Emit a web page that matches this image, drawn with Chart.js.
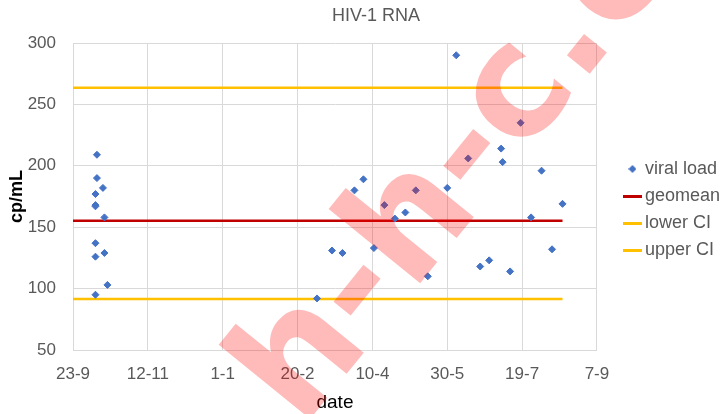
<!DOCTYPE html>
<html>
<head>
<meta charset="utf-8">
<script src="https://cdn.jsdelivr.net/npm/chart.js@4.4.1/dist/chart.umd.min.js"></script>
<style>
  html, body { margin: 0; padding: 0; background: #fff; }
  #wrap { width: 721px; height: 414px; }
</style>
</head>
<body>
<div id="wrap"><canvas id="vlChart" width="721" height="414"></canvas></div>
<script>
// sample dates and viral loads
const sampleDates = [
  '2019-10-08', '2019-10-08', '2019-10-08', '2019-10-08', '2019-10-08', '2019-10-08',
  '2019-10-09', '2019-10-09', '2019-10-13', '2019-10-14', '2019-10-14', '2019-10-16',
  '2020-03-04', '2020-03-14', '2020-03-21', '2020-03-29', '2020-04-04', '2020-04-11',
  '2020-04-18', '2020-04-25', '2020-05-02', '2020-05-09', '2020-05-17', '2020-05-30',
  '2020-06-05', '2020-06-13', '2020-06-21', '2020-06-27', '2020-07-05', '2020-07-06',
  '2020-07-11', '2020-07-18', '2020-07-25', '2020-08-01', '2020-08-08', '2020-08-15'
];
const viralLoad = [
  177, 168, 167, 137, 126, 95,
  209, 190, 182, 158, 129, 103,
  92, 131, 129, 180, 189, 133,
  168, 157, 162, 180, 110, 182,
  290, 206, 118, 123, 214, 203,
  114, 235, 158, 196, 132, 169
];

// horizontal reference lines
const refLineDates = ['2019-09-23', '2020-08-15'];
const geomean = 155.3;
const lowerCI = 91.5;
const upperCI = 263.6;

const seriesNames = ['viral load', 'geomean', 'lower CI', 'upper CI'];
const seriesColors = ['#4472C4', '#C00000', '#FFC000', '#FFC000'];

const yTicks = [50, 100, 150, 200, 250, 300];

// x axis runs in days from 23-9-2019
const startDay = Date.UTC(2019, 8, 23);
function dayOf(s) {
  const [y, m, d] = s.split('-').map(Number);
  return (Date.UTC(y, m - 1, d) - startDay) / 864e5;
}
function dayLabel(v) {
  const d = new Date(startDay + v * 864e5);
  return d.getUTCDate() + '-' + (d.getUTCMonth() + 1);
}

function refLine(val) {
  return refLineDates.map(d => ({ x: dayOf(d), y: val }));
}

// legend icons
function lineIcon(color) {
  const c = document.createElement('canvas');
  c.width = 19; c.height = 3;
  const g = c.getContext('2d');
  g.fillStyle = color;
  g.fillRect(0, 0, 19, 3);
  return c;
}
function diamondIcon(color) {
  const c = document.createElement('canvas');
  c.width = 8; c.height = 8;
  const g = c.getContext('2d');
  g.fillStyle = color;
  g.beginPath();
  g.moveTo(4, 0); g.lineTo(8, 4); g.lineTo(4, 8); g.lineTo(0, 4);
  g.closePath();
  g.fill();
  return c;
}
const legendIcons = [diamondIcon(seriesColors[0]), lineIcon(seriesColors[1]), lineIcon(seriesColors[2]), lineIcon(seriesColors[3])];

// title + watermark
const overlay = {
  id: 'overlay',
  afterDraw(chart) {
    const { ctx } = chart;
    ctx.save();
    ctx.font = '18px "Liberation Sans"';
    ctx.fillStyle = '#595959';
    ctx.textAlign = 'center';
    ctx.textBaseline = 'middle';
    ctx.fillText('HIV-1 RNA', 376, 16);

    ctx.translate(302, 429);
    ctx.rotate(-51 * Math.PI / 180);
    ctx.font = 'bold 155px "DejaVu Sans"';
    ctx.fillStyle = 'rgba(255,0,0,0.27)';
    ctx.textAlign = 'left';
    ctx.textBaseline = 'alphabetic';
    ctx.fillText('h-h-c.com', 0, 0);
    ctx.restore();
  }
};

Chart.defaults.font.family = '"Liberation Sans", Arial, sans-serif';

const ctx = document.getElementById('vlChart');

new Chart(ctx, {
  type: 'scatter',
  data: {
    datasets: [
      {
        label: seriesNames[0],
        data: sampleDates.map((d, i) => ({ x: dayOf(d), y: viralLoad[i] })),
        pointStyle: 'rectRot',
        pointRadius: 3.5,
        pointHoverRadius: 3.5,
        backgroundColor: seriesColors[0],
        borderColor: seriesColors[0],
        borderWidth: 1
      },
      {
        label: seriesNames[1],
        data: refLine(geomean),
        showLine: true,
        borderColor: seriesColors[1],
        backgroundColor: seriesColors[1],
        borderWidth: 2.5,
        pointRadius: 0
      },
      {
        label: seriesNames[2],
        data: refLine(lowerCI),
        showLine: true,
        borderColor: seriesColors[2],
        backgroundColor: seriesColors[2],
        borderWidth: 2.5,
        pointRadius: 0
      },
      {
        label: seriesNames[3],
        data: refLine(upperCI),
        showLine: true,
        borderColor: seriesColors[3],
        backgroundColor: seriesColors[3],
        borderWidth: 2.5,
        pointRadius: 0
      }
    ]
  },
  options: {
    responsive: false,
    animation: false,
    layout: { padding: { top: 43, right: -9, bottom: 0, left: 0 } },
    plugins: {
      tooltip: { enabled: false },
      title: { display: false },
      legend: {
        position: 'right',
        fullSize: false,
        title: { display: true, text: ' ', font: { size: 18, lineHeight: 1 }, padding: { top: 2, bottom: 6 } },
        labels: {
          usePointStyle: true,
          boxWidth: 7,
          boxHeight: 16,
          padding: 9,
          color: '#595959',
          font: { size: 18 },
          generateLabels: (chart) => chart.data.datasets.map((ds, i) => ({
            text: ds.label,
            pointStyle: legendIcons[i],
            fillStyle: seriesColors[i],
            strokeStyle: seriesColors[i],
            lineWidth: 0,
            hidden: false,
            datasetIndex: i,
            fontColor: '#595959'
          }))
        }
      }
    },
    scales: {
      x: {
        type: 'linear',
        min: 0,
        max: 350,
        ticks: {
          stepSize: 50,
          padding: 14,
          color: '#595959',
          font: { size: 17 },
          maxRotation: 0,
          autoSkip: false,
          callback: (v) => dayLabel(v)
        },
        grid: { color: '#D9D9D9', drawTicks: false },
        border: { color: '#D9D9D9' },
        title: { display: true, text: 'date', color: '#000', font: { size: 19 }, padding: { top: 7.8, bottom: 0 } },
        afterFit: (s) => { s.height = 64; }
      },
      y: {
        min: yTicks[0],
        max: yTicks[yTicks.length - 1],
        afterBuildTicks: (s) => { s.ticks = yTicks.map(v => ({ value: v })); },
        ticks: { padding: 17, color: '#595959', font: { size: 17 } },
        grid: { color: '#D9D9D9', drawTicks: false },
        border: { color: '#D9D9D9' },
        title: { display: true, text: 'cp/mL', color: '#000', font: { size: 18, weight: 'bold' }, padding: { top: 6, bottom: 0 } },
        afterFit: (s) => { s.width = 73; }
      },
      // empty gap between plot and legend
      gap: {
        type: 'linear',
        position: 'right',
        display: true,
        grid: { display: false },
        ticks: { display: false },
        border: { display: false },
        afterFit: (s) => { s.width = 23; }
      }
    }
  },
  plugins: [overlay]
});
</script>
</body>
</html>
